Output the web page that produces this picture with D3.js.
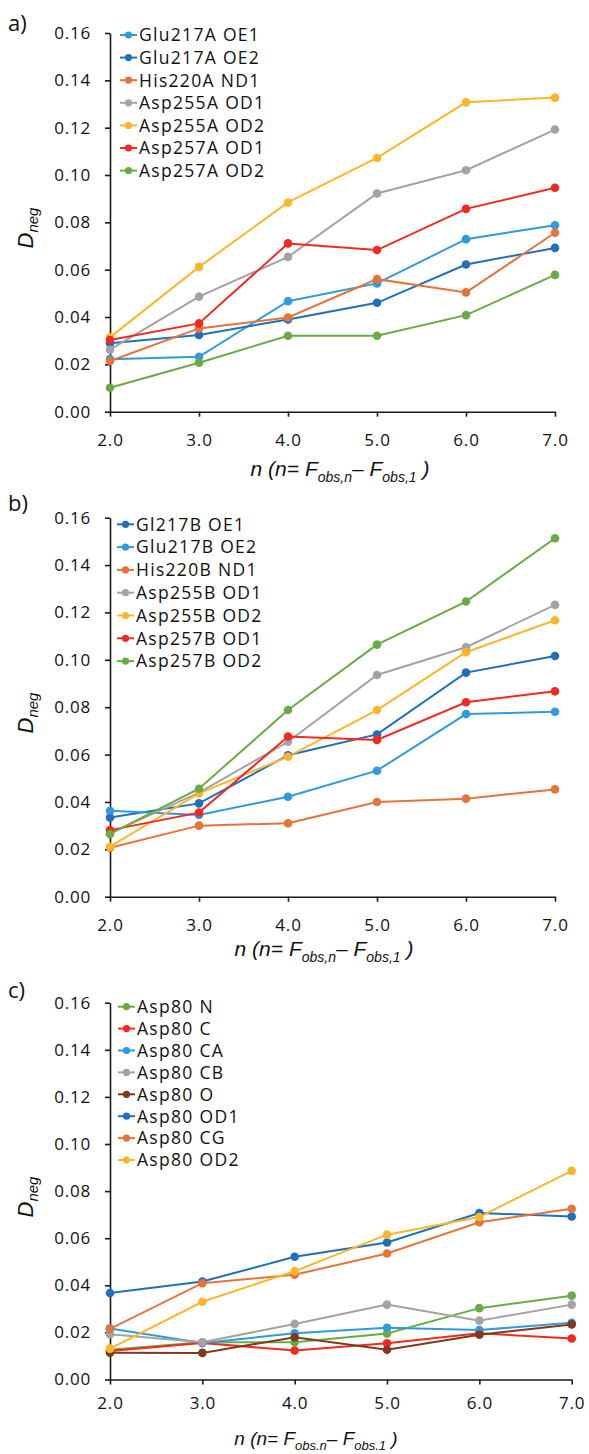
<!DOCTYPE html>
<html><head><meta charset="utf-8">
<script src="https://cdn.jsdelivr.net/npm/d3@7"></script>
<style>
html,body{margin:0;padding:0;background:#fff;}
svg{display:block;}
</style></head>
<body>
<svg id="chart" width="589" height="1454"></svg>
<script>
// ---------- DATA ----------
const xValues = [2, 3, 4, 5, 6, 7];
const yTickValues = [0, 0.02, 0.04, 0.06, 0.08, 0.10, 0.12, 0.14, 0.16];

// Panel a
const namesA = ["Glu217A OE1", "Glu217A OE2", "His220A ND1", "Asp255A OD1", "Asp255A OD2", "Asp257A OD1", "Asp257A OD2"];
const glu217A_OE1 = [0.0222, 0.0232, 0.0467, 0.0542, 0.0729, 0.0788];
const glu217A_OE2 = [0.0289, 0.0324, 0.0390, 0.0460, 0.0622, 0.0692];
const his220A_ND1 = [0.0214, 0.0352, 0.0398, 0.0560, 0.0504, 0.0756];
const asp255A_OD1 = [0.0262, 0.0486, 0.0654, 0.0922, 0.1020, 0.1192];
const asp255A_OD2 = [0.0314, 0.0612, 0.0884, 0.1072, 0.1307, 0.1327];
const asp257A_OD1 = [0.0303, 0.0373, 0.0711, 0.0683, 0.0857, 0.0946];
const asp257A_OD2 = [0.0101, 0.0207, 0.0321, 0.0321, 0.0408, 0.0578];

// Panel b
const namesB = ["Gl217B OE1", "Glu217B OE2", "His220B ND1", "Asp255B OD1", "Asp255B OD2", "Asp257B OD1", "Asp257B OD2"];
const gl217B_OE1  = [0.0334, 0.0394, 0.0597, 0.0685, 0.0946, 0.1016];
const glu217B_OE2 = [0.0363, 0.0345, 0.0422, 0.0532, 0.0771, 0.0781];
const his220B_ND1 = [0.0207, 0.0300, 0.0310, 0.0400, 0.0414, 0.0453];
const asp255B_OD1 = [0.0267, 0.0439, 0.0654, 0.0936, 0.1053, 0.1232];
const asp255B_OD2 = [0.0211, 0.0436, 0.0591, 0.0788, 0.1032, 0.1167];
const asp257B_OD1 = [0.0281, 0.0355, 0.0676, 0.0662, 0.0821, 0.0867];
const asp257B_OD2 = [0.0265, 0.0456, 0.0788, 0.1064, 0.1246, 0.1513];

// Panel c
const namesC = ["Asp80 N", "Asp80 C", "Asp80 CA", "Asp80 CB", "Asp80 O", "Asp80 OD1", "Asp80 CG", "Asp80 OD2"];
const asp80_N   = [0.0126, 0.0158, 0.0158, 0.0195, 0.0303, 0.0356];
const asp80_C   = [0.0121, 0.0155, 0.0123, 0.0154, 0.0196, 0.0174];
const asp80_CA  = [0.0217, 0.0155, 0.0196, 0.0220, 0.0210, 0.0241];
const asp80_CB  = [0.0192, 0.0158, 0.0236, 0.0318, 0.0250, 0.0318];
const asp80_O   = [0.0114, 0.0113, 0.0179, 0.0126, 0.0190, 0.0234];
const asp80_OD1 = [0.0367, 0.0416, 0.0521, 0.0582, 0.0707, 0.0692];
const asp80_CG  = [0.0215, 0.0409, 0.0445, 0.0535, 0.0668, 0.0725];
const asp80_OD2 = [0.0131, 0.0330, 0.0460, 0.0615, 0.0690, 0.0886];

// ---------- STYLE ----------
const C = {
  lightBlue: "#2f9bdb", darkBlue: "#1f6fb9", orange: "#e4743a", gray: "#a3a3a3",
  yellow: "#fdb62a", red: "#f02a22", green: "#6aab46", brown: "#80391c"
};

const panels = [
  {
    label: "a)", labelX: 8, labelY: 31,
    top: 33, bottom: 411.7, left: 110, right: 555,
    names: namesA,
    values: [glu217A_OE1, glu217A_OE2, his220A_ND1, asp255A_OD1, asp255A_OD2, asp257A_OD1, asp257A_OD2],
    colors: [C.lightBlue, C.darkBlue, C.orange, C.gray, C.yellow, C.red, C.green],
    legX: 120, legY: 35, legStep: 22.6,
    yLabelY: 228, titleX: 340, titleY: 476, titleSize: 21, tickPad: 17, titleSub: [",n", ",1"]
  },
  {
    label: "b)", labelX: 8, labelY: 511,
    top: 517.7, bottom: 896.7, left: 110, right: 555,
    names: namesB,
    values: [gl217B_OE1, glu217B_OE2, his220B_ND1, asp255B_OD1, asp255B_OD2, asp257B_OD1, asp257B_OD2],
    colors: [C.darkBlue, C.lightBlue, C.orange, C.gray, C.yellow, C.red, C.green],
    legX: 117, legY: 524.3, legStep: 22.8,
    yLabelY: 713, titleX: 324, titleY: 956, titleSize: 21, tickPad: 17, titleSub: [",n", ",1"]
  },
  {
    label: "c)", labelX: 8, labelY: 998,
    top: 1002.7, bottom: 1379.5, left: 110, right: 571.7,
    names: namesC,
    values: [asp80_N, asp80_C, asp80_CA, asp80_CB, asp80_O, asp80_OD1, asp80_CG, asp80_OD2],
    colors: [C.green, C.red, C.lightBlue, C.gray, C.brown, C.darkBlue, C.orange, C.yellow],
    legX: 118, legY: 1006.7, legStep: 21.9,
    yLabelY: 1197, titleX: 316, titleY: 1445, titleSize: 19, tickPad: 12, titleSub: [".n", ".1"]
  }
];

const svg = d3.select("#chart");
const tickFont = "'Open Sans', sans-serif";
const italicFont = "'Liberation Sans', Arial, sans-serif";

panels.forEach(p => {
  const x = d3.scaleLinear().domain([2, 7]).range([p.left, p.right]);
  const y = d3.scaleLinear().domain([0, 0.16]).range([p.bottom, p.top]);
  const g = svg.append("g");

  // panel label
  g.append("text").attr("x", p.labelX).attr("y", p.labelY)
    .attr("font-family", tickFont).attr("font-size", 22).attr("fill", "#111").text(p.label);

  // axes
  const yAxis = d3.axisLeft(y).tickValues(yTickValues).tickFormat(d3.format(".2f"))
    .tickSizeInner(5).tickSizeOuter(0).tickPadding(14);
  const gy = g.append("g").attr("transform", `translate(${p.left},0)`).call(yAxis);
  const xAxis = d3.axisBottom(x).tickValues(xValues).tickFormat(d3.format(".1f"))
    .tickSizeInner(5).tickSizeOuter(0).tickPadding(p.tickPad);
  const gx = g.append("g").attr("transform", `translate(0,${p.bottom})`).call(xAxis);
  [gx, gy].forEach(a => {
    a.select(".domain").attr("stroke", "#1a1a1a").attr("stroke-width", 1.6);
    a.selectAll(".tick line").attr("stroke", "#1a1a1a").attr("stroke-width", 1.6);
    a.selectAll(".tick text").attr("font-family", tickFont).attr("font-size", 17)
      .attr("letter-spacing", "0.8px").attr("fill", "#111");
  });

  // lines
  const line = d3.line().x((d, i) => x(xValues[i])).y(d => y(d));
  p.values.forEach((vals, si) => {
    g.append("path").datum(vals).attr("d", line).attr("fill", "none")
      .attr("stroke", p.colors[si]).attr("stroke-width", 2);
  });
  p.values.forEach((vals, si) => {
    g.selectAll(null).data(vals).enter().append("circle")
      .attr("cx", (d, i) => x(xValues[i])).attr("cy", d => y(d)).attr("r", 4.3)
      .attr("fill", p.colors[si]);
  });

  // legend
  p.names.forEach((name, i) => {
    const ly = p.legY + i * p.legStep;
    g.append("line").attr("x1", p.legX).attr("x2", p.legX + 17).attr("y1", ly).attr("y2", ly)
      .attr("stroke", p.colors[i]).attr("stroke-width", 2);
    g.append("circle").attr("cx", p.legX + 8.5).attr("cy", ly).attr("r", 3.6).attr("fill", p.colors[i]);
    g.append("text").attr("x", p.legX + 19).attr("y", ly).attr("dy", "0.36em")
      .attr("font-family", tickFont).attr("font-size", 17.5).attr("letter-spacing", "1.3px")
      .attr("fill", "#111").text(name);
  });

  // y label
  const yl = g.append("text").attr("transform", `translate(33,${p.yLabelY}) rotate(-90)`)
    .attr("text-anchor", "middle").attr("font-family", italicFont).attr("font-style", "italic")
    .attr("font-size", 22).attr("fill", "#111");
  yl.append("tspan").text("D");
  yl.append("tspan").attr("font-size", 15).attr("dy", 5).text("neg");

  // x title
  const t = g.append("text").attr("x", p.titleX).attr("y", p.titleY).attr("text-anchor", "middle")
    .attr("font-family", italicFont).attr("font-style", "italic").attr("font-size", p.titleSize).attr("fill", "#111");
  const sub = Math.round(p.titleSize * 0.68);
  const sd = p.titleSize > 20 ? 6 : 5;
  t.append("tspan").text("n (n= F");
  t.append("tspan").attr("font-size", sub).attr("dy", sd).text("obs" + p.titleSub[0]);
  t.append("tspan").attr("dy", -sd).text("\u2013 F");
  t.append("tspan").attr("font-size", sub).attr("dy", sd).text("obs" + p.titleSub[1]);
  t.append("tspan").attr("dy", -sd).text(" )");
});
</script>
</body></html>
